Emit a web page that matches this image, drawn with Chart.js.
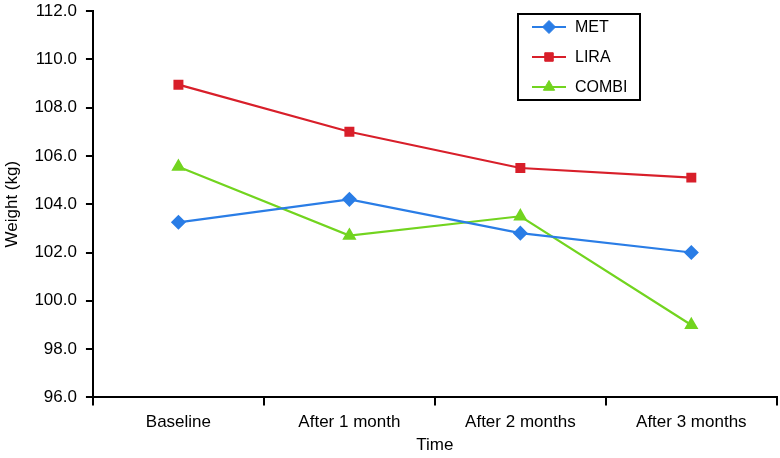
<!DOCTYPE html>
<html>
<head>
<meta charset="utf-8">
<script src="https://cdn.jsdelivr.net/npm/chart.js@4/dist/chart.umd.min.js"></script>
<style>
  html, body { margin: 0; padding: 0; background: #fff; overflow: hidden; }
  #wrap { position: relative; width: 785px; height: 458px; }
</style>
</head>
<body>
<div id="wrap"><canvas id="weightChart"></canvas></div>
<script>
// weight over time per treatment arm
const timepoints = ['Baseline', 'After 1 month', 'After 2 months', 'After 3 months'];
const metWeight = [103.25, 104.2, 102.8, 102.0];
const liraWeight = [108.95, 107.0, 105.5, 105.1];
const combiWeight = [105.55, 102.7, 103.5, 99.0];
const yTicks = [96, 98, 100, 102, 104, 106, 108, 110, 112];

const FONT = 'Liberation Sans, Arial, Helvetica, sans-serif';

// boxed legend sitting inside the plot, top right
const boxLegend = {
    id: 'boxLegend',
    afterDraw(chart) {
        const ctx = chart.ctx;
        const x = 518, y = 14, w = 122, h = 86;
        ctx.save();
        ctx.strokeStyle = '#000';
        ctx.lineWidth = 2;
        ctx.strokeRect(x, y, w, h);
        chart.data.datasets.forEach((ds, i) => {
            const cy = y + 13 + i * 30;
            ctx.strokeStyle = ds.borderColor;
            ctx.fillStyle = ds.borderColor;
            ctx.lineWidth = 2;
            ctx.beginPath();
            ctx.moveTo(x + 14, cy);
            ctx.lineTo(x + 48, cy);
            ctx.stroke();
            ctx.lineWidth = 1;
            Chart.helpers.drawPoint(ctx, {
                pointStyle: ds.pointStyle,
                radius: ds.pointRadius + 0.5,
                borderWidth: 1
            }, x + 31, cy);
            ctx.fillStyle = '#000';
            ctx.font = '16px ' + FONT;
            ctx.textBaseline = 'middle';
            ctx.textAlign = 'left';
            ctx.fillText(ds.label, x + 57, cy + 1);
        });
        ctx.restore();
    }
};

function makeSet(label, data, color, style, radius) {
    return {
        label: label,
        data: data,
        borderColor: color,
        backgroundColor: color,
        pointBackgroundColor: color,
        pointBorderColor: color,
        borderWidth: 2.2,
        pointStyle: style,
        pointRadius: radius,
        pointHoverRadius: radius,
        tension: 0
    };
}

new Chart(document.getElementById('weightChart'), {
    type: 'line',
    data: {
        labels: timepoints,
        datasets: [
            makeSet('MET', metWeight, '#2a7de6', 'rectRot', 6),
            makeSet('LIRA', liraWeight, '#d81f2a', 'rect', 5.5),
            makeSet('COMBI', combiWeight, '#72d41f', 'triangle', 6)
        ]
    },
    options: {
        responsive: true,
        maintainAspectRatio: false,
        animation: false,
        layout: { padding: { top: 11, right: 0, bottom: 8, left: 2 } },
        plugins: {
            legend: { display: false },
            tooltip: { enabled: false }
        },
        scales: {
            x: {
                offset: true,
                afterFit(axis) {
                    axis.paddingRight = 0;
                    axis.paddingLeft = 0;
                },
                grid: {
                    offset: true,
                    drawOnChartArea: false,
                    drawTicks: true,
                    tickLength: 8,
                    color: '#000',
                    lineWidth: 2
                },
                border: { display: true, color: '#000', width: 2 },
                ticks: {
                    color: '#000',
                    font: { family: FONT, size: 17 },
                    padding: 7,
                    maxRotation: 0
                },
                title: {
                    display: true,
                    text: 'Time',
                    color: '#000',
                    font: { family: FONT, size: 17, lineHeight: 0.6 },
                    padding: { top: 0, bottom: 0 }
                }
            },
            y: {
                min: yTicks[0],
                max: yTicks[yTicks.length - 1],
                afterBuildTicks(axis) {
                    axis.ticks = yTicks.map(v => ({ value: v }));
                },
                afterFit(axis) {
                    axis.paddingTop = 0;
                    axis.paddingBottom = 0;
                },
                grid: {
                    drawOnChartArea: false,
                    drawTicks: true,
                    tickLength: 7,
                    color: '#000',
                    lineWidth: 2
                },
                border: { display: true, color: '#000', width: 2 },
                ticks: {
                    color: '#000',
                    font: { family: FONT, size: 17 },
                    padding: 9,
                    callback: v => v.toFixed(1)
                },
                title: {
                    display: true,
                    text: 'Weight (kg)',
                    color: '#000',
                    font: { family: FONT, size: 17 },
                    padding: { top: 0, bottom: 3 }
                }
            }
        }
    },
    plugins: [boxLegend]
});
</script>
</body>
</html>
